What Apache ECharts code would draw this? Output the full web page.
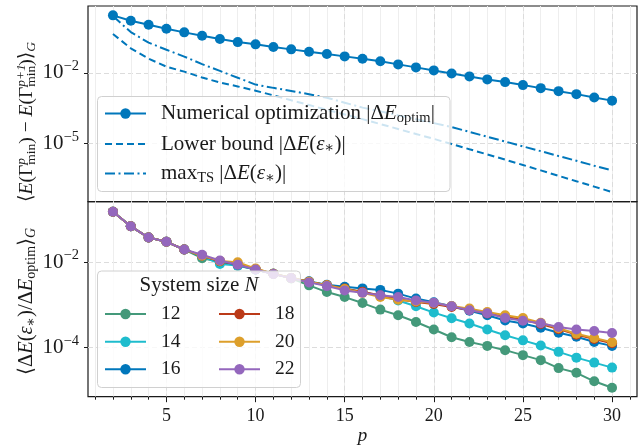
<!DOCTYPE html>
<html><head><meta charset="utf-8">
<script src="https://cdn.jsdelivr.net/npm/echarts@6/dist/echarts.min.js"></script>
<style>html,body{margin:0;padding:0;background:#fff}#c{width:641px;height:447px}</style>
</head><body><div id="c"></div>
<script>
// ---------------- data ----------------
const p = [2,3,4,5,6,7,8,9,10,11,12,13,14,15,16,17,18,19,20,21,22,23,24,25,26,27,28,29,30];

// top panel
const optim = [2.77,1.63,1.10,0.745,0.524,0.375,0.272,0.202,0.162,0.124,0.0991,0.0783,0.0625,0.0499,0.0394,0.0308,0.0228,0.0170,0.01265,0.00942,0.00703,0.00524,0.00402,0.00300,0.00223,0.00166,0.00124,0.000897,0.000656];
const lowerBound = [0.447,0.110,0.0398,0.0182,0.0112,6.31e-3,3.89e-3,2.63e-3,1.74e-3,1.10e-3,6.76e-4,4.27e-4,2.69e-4,1.70e-4,1.07e-4,6.61e-5,4.07e-5,2.51e-5,1.55e-5,9.33e-6,5.62e-6,3.39e-6,2.04e-6,1.20e-6,7.08e-7,4.17e-7,2.45e-7,1.45e-7,8.51e-8];
const maxTS = [2.57,0.537,0.191,0.0955,0.0490,0.0234,0.0120,6.17e-3,3.16e-3,2.29e-3,1.70e-3,1.23e-3,8.71e-4,5.37e-4,3.31e-4,2.29e-4,1.55e-4,1.07e-4,7.24e-5,4.90e-5,3.09e-5,1.91e-5,1.20e-5,7.41e-6,4.68e-6,2.88e-6,1.82e-6,1.12e-6,7.08e-7];

// bottom panel: system sizes
const sizes = ['12','14','16','18','20','22'];
const ratioN12 = [0.153,0.0693,0.0378,0.0300,0.0198,0.01239,0.01023,8.32e-3,6.76e-3,5.37e-3,4.17e-3,2.86e-3,1.99e-3,1.52e-3,1.10e-3,7.73e-4,5.69e-4,3.96e-4,2.64e-4,1.74e-4,1.35e-4,1.09e-4,8.65e-5,6.61e-5,5.05e-5,3.28e-5,2.55e-5,1.61e-5,1.14e-5];
const ratioN14 = [0.153,0.0693,0.0378,0.0300,0.0198,0.0138,9.12e-3,8.32e-3,6.76e-3,5.37e-3,4.27e-3,3.47e-3,2.88e-3,2.40e-3,2.00e-3,1.62e-3,1.26e-3,9.23e-4,6.58e-4,4.84e-4,3.64e-4,2.65e-4,1.94e-4,1.47e-4,1.11e-4,7.89e-5,5.78e-5,4.42e-5,3.37e-5];
const ratioN16 = [0.153,0.0693,0.0378,0.0300,0.0198,0.0141,0.01047,8.71e-3,6.76e-3,5.37e-3,4.27e-3,3.55e-3,2.96e-3,2.64e-3,2.43e-3,2.24e-3,1.83e-3,1.40e-3,1.15e-3,9.23e-4,7.24e-4,5.69e-4,4.28e-4,3.64e-4,2.90e-4,2.22e-4,1.79e-4,1.35e-4,1.09e-4];
const ratioN18 = [0.153,0.0693,0.0378,0.0300,0.0198,0.0141,0.01047,8.91e-3,6.92e-3,5.37e-3,4.27e-3,3.47e-3,2.88e-3,2.40e-3,2.04e-3,1.66e-3,1.35e-3,1.17e-3,1.05e-3,8.91e-4,7.59e-4,6.31e-4,5.25e-4,4.47e-4,3.55e-4,2.69e-4,2.00e-4,1.58e-4,1.26e-4];
const ratioN20 = [0.153,0.0693,0.0378,0.0300,0.0198,0.0141,0.01072,0.0100,7.08e-3,5.37e-3,4.27e-3,3.47e-3,2.88e-3,2.34e-3,1.91e-3,1.52e-3,1.32e-3,1.20e-3,1.10e-3,9.33e-4,8.15e-4,6.76e-4,5.69e-4,4.89e-4,3.80e-4,2.82e-4,2.09e-4,1.66e-4,1.33e-4];
const ratioN22 = [0.153,0.0693,0.0378,0.0300,0.0198,0.0149,0.01096,8.69e-3,6.75e-3,5.25e-3,4.23e-3,3.36e-3,2.75e-3,2.18e-3,1.93e-3,1.67e-3,1.52e-3,1.27e-3,1.12e-3,9.23e-4,7.43e-4,6.32e-4,4.92e-4,4.23e-4,3.70e-4,3.03e-4,2.65e-4,2.44e-4,2.19e-4];
const ratios = [ratioN12, ratioN14, ratioN16, ratioN18, ratioN20, ratioN22];

// ticks
const xMajorTicks = [5,10,15,20,25,30];
const xMinorTicks = [1,2,3,4,5,6,7,8,9,10,11,12,13,14,15,16,17,18,19,20,21,22,23,24,25,26,27,28,29,30,31];
const topYTicks = [1e-5, 1e-2];
const bottomYTicks = [1e-4, 1e-2];

// ---------------- styling ----------------
const SERIF = '"Liberation Serif", "DejaVu Serif", serif';
const INK = '#1a1a1a';
const BLUE = '#0077bb';
const sizeColors = ['#44997a','#1ebccd','#0077bb','#bb3a18','#dd9f2b','#9467bd'];
const X_MIN = 0.6, X_MAX = 31.4;

function makeRich(big, small, shift) {
  return {
    i:    {fontFamily: SERIF, fontStyle: 'italic', fontSize: big, color: INK},
    r:    {fontFamily: SERIF, fontSize: big, color: INK},
    sub:  {fontFamily: SERIF, fontSize: small, padding: [shift,0,0,0], color: INK},
    subi: {fontFamily: SERIF, fontStyle: 'italic', fontSize: small, padding: [shift,0,0,0], color: INK},
    supz: {fontFamily: SERIF, fontStyle: 'italic', fontSize: small, padding: [0,0,shift + 2,0], width: 0, color: INK},
    s:    {fontFamily: SERIF, fontSize: small, padding: [0,0,shift + 3,0], color: INK}
  };
}
const legendRich = makeRich(21, 14.5, 9);
const nameRich = makeRich(19.5, 13.5, 9);
const name2Rich = makeRich(20.5, 14, 9);
const tickRich = makeRich(21, 14.5, 10);

const legendTexts = {
  opt: 'Numerical optimization |Δ{i|E}{sub|optim}|',
  lb:  'Lower bound |Δ{i|E}({i|ε}{sub|∗})|',
  ts:  'max{sub|TS} |Δ{i|E}({i|ε}{sub|∗})|'
};

function legendItem(name, left, cy, text, hideSymbol, fontSize) {
  const item = {name: name};
  if (hideSymbol) item.itemStyle = {opacity: 0};
  return {
    show: true, selectedMode: false, orient: 'horizontal', z: 20,
    left: left, top: cy - 12, padding: 0,
    itemWidth: 41, itemHeight: 13,
    data: [item],
    formatter: () => text,
    textStyle: {fontFamily: SERIF, fontSize: fontSize, color: INK, lineHeight: 24, padding: [0,0,0,10], rich: legendRich}
  };
}

function logLabel(v) {
  const e = v < 0 ? Math.round(v) : Math.round(Math.log10(v));
  return '{r|10}{s|' + (e < 0 ? '−' + (-e) : e) + '}';
}

function xAxes(gridIndex, withLabels) {
  return [
    { type: 'value', gridIndex: gridIndex, position: 'bottom', min: X_MIN, max: X_MAX,
      axisLine: {show: false},
      axisTick: {show: withLabels, customValues: xMinorTicks, length: 3, lineStyle: {color: INK, width: 1}},
      axisLabel: {show: false},
      splitLine: {show: true, lineStyle: {color: '#eeeeee', width: 1}} },
    { type: 'value', gridIndex: gridIndex, position: 'bottom', min: X_MIN, max: X_MAX,
      axisLine: {show: false},
      axisTick: {show: withLabels, customValues: xMajorTicks, length: 5.5, lineStyle: {color: INK, width: 1}},
      axisLabel: {show: withLabels, customValues: xMajorTicks, margin: 11, fontFamily: SERIF, fontSize: 18, color: INK},
      splitLine: {show: true, lineStyle: {color: '#dcdcdc', width: 1, type: [5, 3]}},
      name: withLabels ? 'p' : '', nameLocation: 'middle', nameGap: 30,
      nameTextStyle: {fontFamily: SERIF, fontStyle: 'italic', fontSize: 19, color: INK} }
  ];
}

function yAxis(gridIndex, min, max, ticks) {
  return {
    type: 'log', logBase: 10, gridIndex: gridIndex, min: min, max: max,
    axisLine: {show: false},
    axisTick: {show: true, customValues: ticks, length: 4, lineStyle: {color: INK, width: 1}},
    axisLabel: {customValues: ticks, margin: 9, formatter: logLabel, rich: tickRich, fontFamily: SERIF, fontSize: 21, color: INK},
    splitLine: {show: true, lineStyle: {color: '#dcdcdc', width: 1, type: [5, 3]}},
    minorTick: {show: false}, minorSplitLine: {show: false}
  };
}

const pairs = arr => p.map((x, i) => [x, arr[i]]);

const series = [
  { name: 'opt', type: 'line', xAxisIndex: 0, yAxisIndex: 0, data: pairs(optim),
    symbol: 'circle', symbolSize: 10, showAllSymbol: true,
    lineStyle: {color: BLUE, width: 2}, itemStyle: {color: BLUE}, z: 3 },
  { name: 'lb', type: 'line', xAxisIndex: 0, yAxisIndex: 0, data: pairs(lowerBound),
    symbol: 'none', lineStyle: {color: BLUE, width: 2, type: [7, 4]}, itemStyle: {color: BLUE} },
  { name: 'ts', type: 'line', xAxisIndex: 0, yAxisIndex: 0, data: pairs(maxTS),
    symbol: 'none', lineStyle: {color: BLUE, width: 2, type: [10, 3.5, 2, 3.5]}, itemStyle: {color: BLUE} }
];
sizes.forEach((s, k) => {
  series.push({
    name: s, type: 'line', xAxisIndex: 2, yAxisIndex: 1, data: pairs(ratios[k]),
    symbol: 'circle', symbolSize: 10, showAllSymbol: true,
    lineStyle: {color: sizeColors[k], width: 2}, itemStyle: {color: sizeColors[k]}, z: 3 + k
  });
});

const legends = [
  legendItem('opt', 104, 113.5, legendTexts.opt, false, 21),
  legendItem('lb', 104, 144, legendTexts.lb, true, 21),
  legendItem('ts', 104, 173.5, legendTexts.ts, true, 21)
];
const rowsY = [314, 341.7, 369.3];
sizes.forEach((s, k) => {
  const col = Math.floor(k / 3), row = k % 3;
  legends.push(legendItem(s, col === 0 ? 104 : 218, rowsY[row], s, false, 19.5));
});

const option = {
  animation: false,
  backgroundColor: '#ffffff',
  grid: [
    {left: 88, right: 4, top: 6, height: 195.7, show: true, borderColor: INK, borderWidth: 1.2, backgroundColor: 'transparent', containLabel: false, outerBoundsMode: 'none'},
    {left: 88, right: 4, top: 201.7, height: 195, show: true, borderColor: INK, borderWidth: 1.2, backgroundColor: 'transparent', containLabel: false, outerBoundsMode: 'none'}
  ],
  xAxis: xAxes(0, false).concat(xAxes(1, true)),
  yAxis: [
    yAxis(0, 3.31e-8, 6.92, topYTicks),
    yAxis(1, 7.01e-6, 0.262, bottomYTicks)
  ],
  legend: legends,
  graphic: [
    {type: 'rect', z: 10, shape: {x: 97.5, y: 96.5, width: 352.5, height: 95, r: 4},
     style: {fill: 'rgba(255,255,255,0.8)', stroke: '#d0d0d0', lineWidth: 1}},
    {type: 'rect', z: 10, shape: {x: 97.5, y: 271, width: 203, height: 116.5, r: 4},
     style: {fill: 'rgba(255,255,255,0.8)', stroke: '#d0d0d0', lineWidth: 1}},
    {type: 'text', z: 20, x: 199, y: 285,
     style: {text: 'System size {i|N}', rich: makeRich(21, 14, 9), fontFamily: SERIF, fontSize: 21, fill: INK, align: 'center', verticalAlign: 'middle'}},
    // y-axis titles (rotated, read bottom to top)
    {type: 'text', z: 20, x: 27, y: 202, rotation: Math.PI / 2,
     style: {text: '{r|⟨}{i|E}{r|(Γ}{supz|p}{sub|min}{r|) − }{i|E}{r|(Γ}{supz|p+1}{sub|min}{r|)⟩}{subi|G}',
             rich: nameRich, fontFamily: SERIF, fontSize: 19.5, fill: INK, align: 'left', verticalAlign: 'middle'}},
    {type: 'text', z: 20, x: 27, y: 375, rotation: Math.PI / 2,
     style: {text: '{r|⟨Δ}{i|E}{r|(}{i|ε}{sub|∗}{r|)/Δ}{i|E}{sub|optim}{r|⟩}{subi|G}',
             rich: name2Rich, fontFamily: SERIF, fontSize: 20.5, fill: INK, align: 'left', verticalAlign: 'middle'}}
  ],
  series: series
};

const chart = echarts.init(document.getElementById('c'), null, {renderer: 'canvas'});
chart.setOption(option);
</script>
</body></html>
